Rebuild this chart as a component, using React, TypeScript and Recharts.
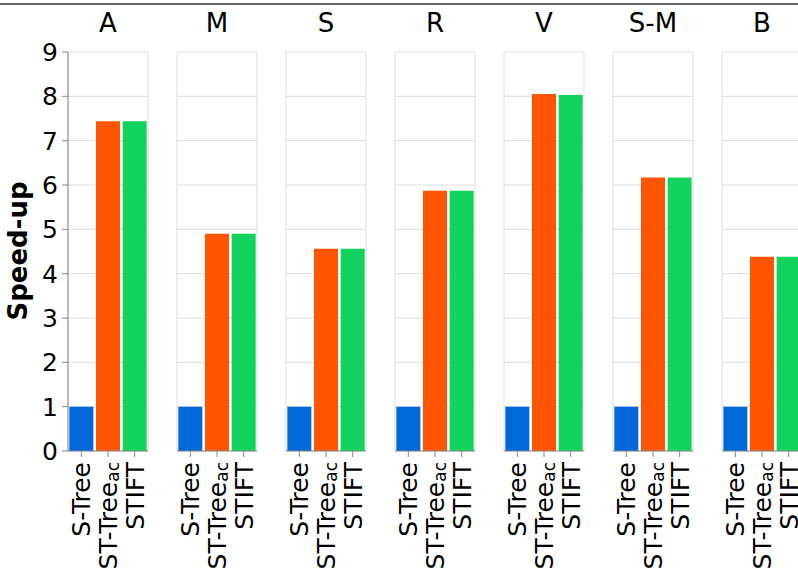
import React from 'react';
import { BarChart, Bar, XAxis, YAxis, CartesianGrid, Cell } from 'recharts';

// Facets (one panel per dataset) and the three methods compared in each
const facets = ['A', 'M', 'S', 'R', 'V', 'S-M', 'B'];
const methods = ['S-Tree', 'ST-Treeac', 'STIFT'];
const methodBase = ['S-Tree', 'ST-Tree', 'STIFT'];
const methodSub = ['', 'ac', ''];
const methodColors = ['#0068d9', '#ff5500', '#12d35e'];

// Speed-up per facet, one array per method
const sTree = [1, 1, 1, 1, 1, 1, 1];
const stTreeAc = [7.44, 4.9, 4.56, 5.87, 8.05, 6.17, 4.38];
const stift = [7.44, 4.9, 4.56, 5.87, 8.03, 6.17, 4.38];
const seriesByMethod = [sTree, stTreeAc, stift];

const yTicks = [0, 1, 2, 3, 4, 5, 6, 7, 8, 9];

// Layout
const W = 798;
const H = 572;
const PLOT_TOP = 52;
const PLOT_BOTTOM = 451;
const PANEL_W = 80;
const PANEL_PAD = 12;
const PANEL_STEP = 109;
const FIRST_LEFT = 68;
const Y_AXIS_W = 60;
const FONT = 'DejaVu Sans, Verdana, sans-serif';

const facetData = (fi: number) =>
  methods.map((m, mi) => ({ method: m, value: seriesByMethod[mi][fi] }));

const MethodTick = (props: any) => {
  const { x, y, payload } = props;
  const idx = methods.indexOf(payload.value);
  const base = methodBase[idx];
  const sub = methodSub[idx];
  return (
    <g transform={`translate(${x},${y})`}>
      <text
        transform="rotate(-90)"
        x={-3}
        y={0}
        dy="0.36em"
        textAnchor="end"
        fontSize={25}
        fontFamily={FONT}
        fill="#000"
      >
        {base}
        {sub ? (
          <tspan fontSize={17} dy={2}>
            {sub}
          </tspan>
        ) : null}
      </text>
    </g>
  );
};

const panelBorder = ({ offset }: any) => [offset.left, offset.left + offset.width];

function Panel({ fi }: { fi: number }) {
  const withAxis = fi === 0;
  const left = withAxis ? 0 : FIRST_LEFT + PANEL_STEP * fi - PANEL_PAD;
  const marginLeft = withAxis ? FIRST_LEFT - Y_AXIS_W : PANEL_PAD;
  const width = (withAxis ? FIRST_LEFT : PANEL_PAD) + PANEL_W + PANEL_PAD;
  return (
    <div style={{ position: 'absolute', left, top: 0 }}>
      <BarChart
        width={width}
        height={H}
        data={facetData(fi)}
        margin={{ top: PLOT_TOP, right: PANEL_PAD, bottom: 0, left: marginLeft }}
        barCategoryGap="5%"
      >
        <CartesianGrid
          stroke="#dddddd"
          strokeWidth={1}
          verticalCoordinatesGenerator={panelBorder}
        />
        <XAxis
          dataKey="method"
          type="category"
          height={H - PLOT_BOTTOM}
          interval={0}
          tickSize={6}
          tickMargin={2}
          axisLine={{ stroke: '#888888' }}
          tickLine={{ stroke: '#888888' }}
          tick={<MethodTick />}
        />
        <YAxis
          type="number"
          domain={[0, 9]}
          ticks={yTicks}
          interval={0}
          hide={!withAxis}
          width={Y_AXIS_W}
          tickSize={6}
          tickMargin={4}
          axisLine={{ stroke: '#888888' }}
          tickLine={{ stroke: '#888888' }}
          tick={{ fontSize: 25, fill: '#000', fontFamily: FONT }}
        />
        <Bar dataKey="value" isAnimationActive={false}>
          {methods.map((m, mi) => (
            <Cell key={m} fill={methodColors[mi]} />
          ))}
        </Bar>
      </BarChart>
    </div>
  );
}

export default function App() {
  return (
    <div
      style={{
        position: 'absolute',
        left: 0,
        top: 0,
        width: W,
        height: H,
        overflow: 'hidden',
        background: '#fff',
        fontFamily: FONT,
      }}
    >
      <div style={{ position: 'absolute', left: 0, top: 3, width: W, height: 1.5, background: '#666' }} />
      {facets.map((f, fi) => (
        <Panel key={f} fi={fi} />
      ))}
      <svg
        width={W}
        height={H}
        style={{ position: 'absolute', left: 0, top: 0, pointerEvents: 'none' }}
      >
        {facets.map((f, fi) => (
          <text
            key={f}
            x={FIRST_LEFT + PANEL_STEP * fi + PANEL_W / 2}
            y={32}
            textAnchor="middle"
            fontSize={26}
            fontFamily={FONT}
            fill="#000"
          >
            {f}
          </text>
        ))}
        <text
          transform="translate(27,251) rotate(-90)"
          textAnchor="middle"
          fontSize={26}
          fontWeight="bold"
          fontFamily={FONT}
          fill="#000"
        >
          Speed-up
        </text>
      </svg>
    </div>
  );
}
